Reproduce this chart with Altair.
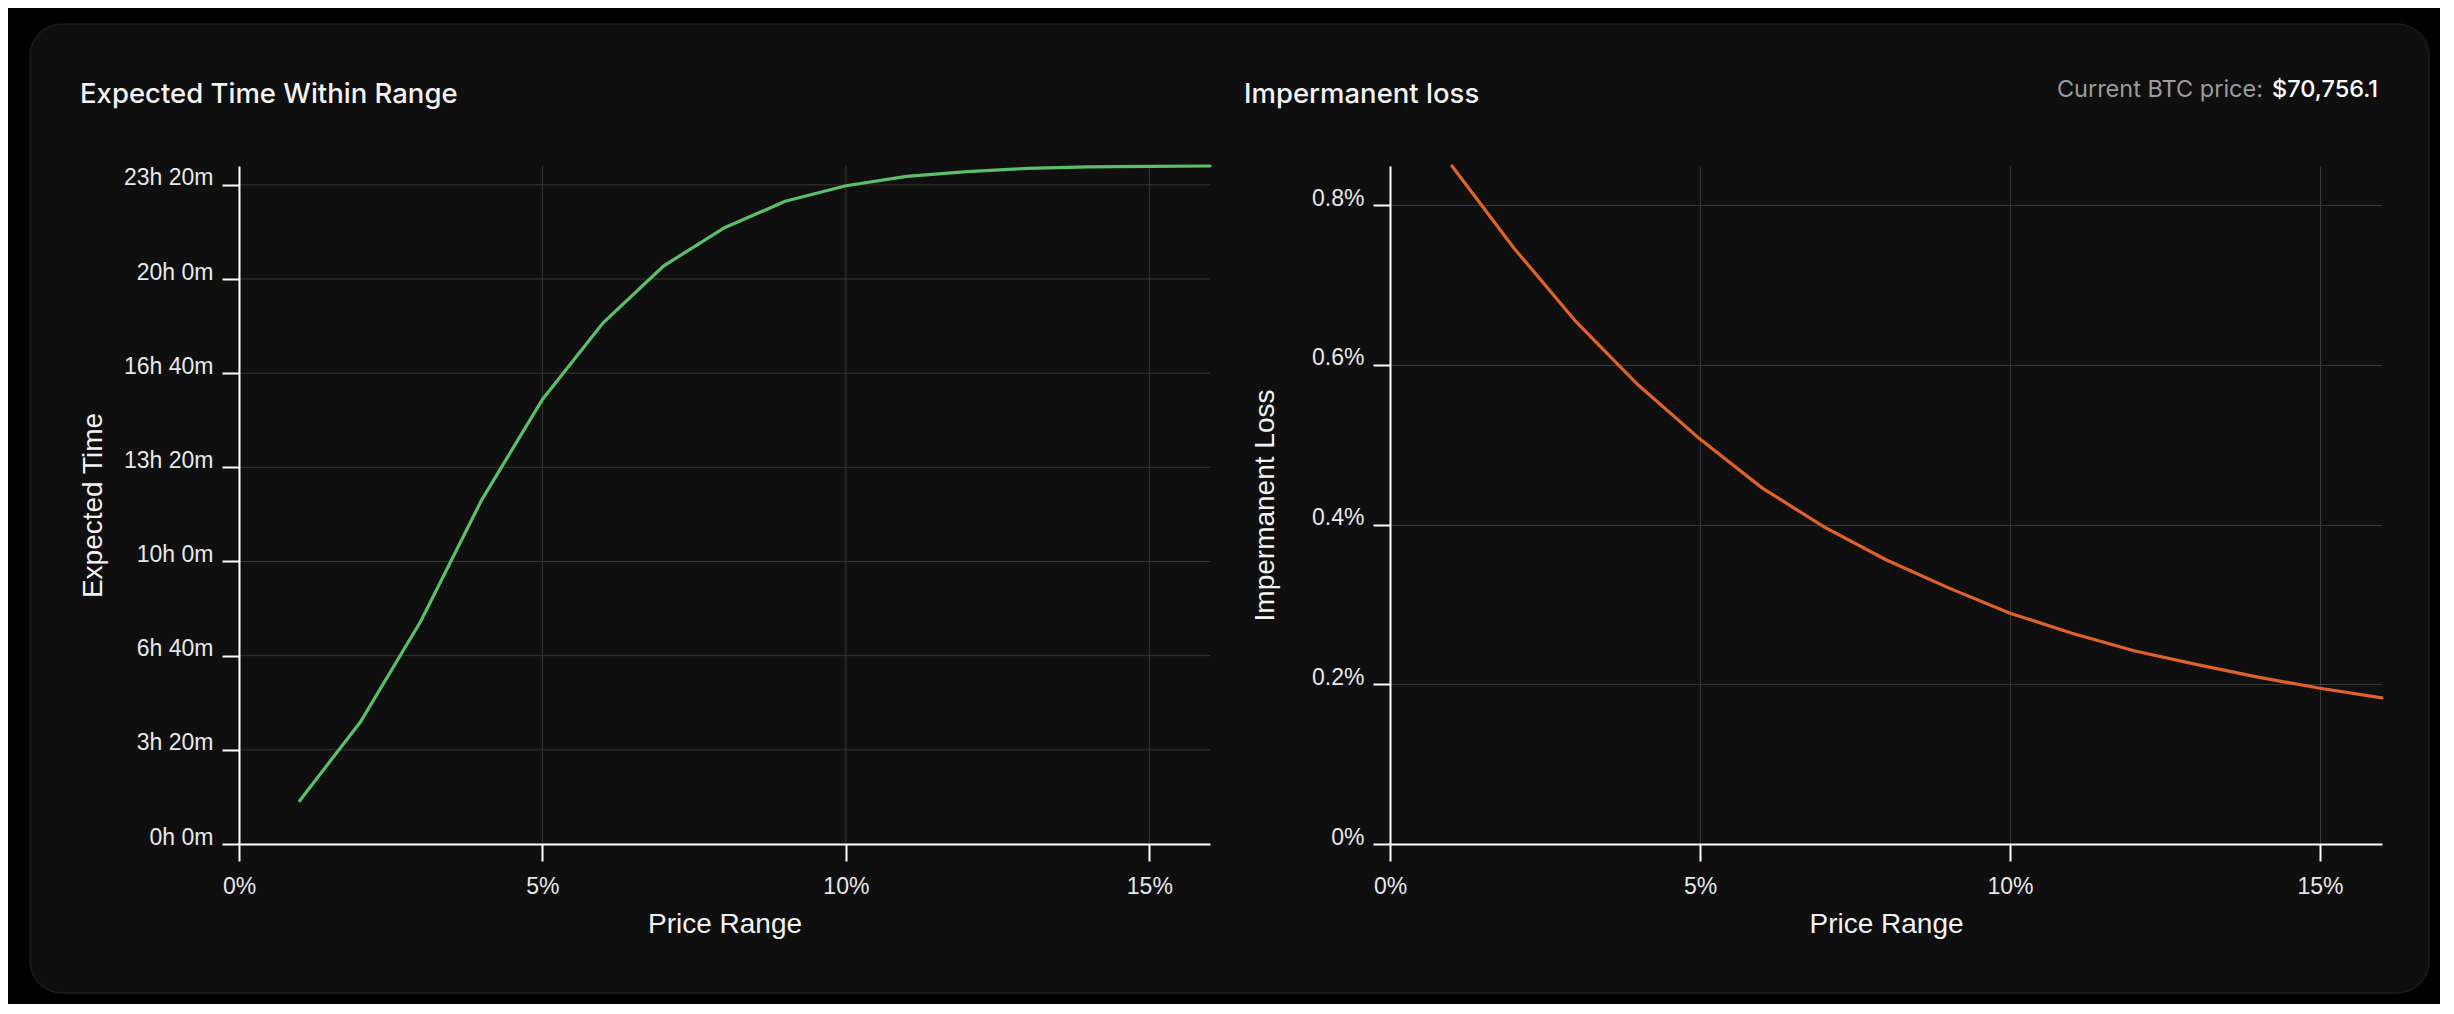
import altair as alt
import pandas as pd

# ---------------- data ----------------
price_range = list(range(1, 17))  # percent
expected_minutes = [92, 259, 474, 731, 944, 1107, 1228, 1309, 1365, 1398,
                    1418, 1428, 1435, 1438, 1439, 1440]
impermanent_loss = [0.849, 0.746, 0.654, 0.575, 0.507, 0.446, 0.397, 0.356,
                    0.321, 0.289, 0.264, 0.242, 0.225, 0.209, 0.195, 0.183]

x_ticks = [0, 5, 10, 15]
time_ticks = [0, 200, 400, 600, 800, 1000, 1200, 1400]
loss_ticks = [0, 0.2, 0.4, 0.6, 0.8]

left_title = ["Expected Time Within Range"]
right_title = ["Impermanent loss"]
x_title = "Price Range"
left_y_title = "Expected Time"
right_y_title = "Impermanent Loss"
price_label = ["Current BTC price:"]
price_value = ["$70,756.1"]

# ---------------- layout ----------------
L_W, R_W, H = 971, 992, 678
GREEN = "#5bbf69"
ORANGE = "#e0622a"
GRID = "#383838"
CARD = "#0f0f0f"
TITLE_FONT = "Inter"
AX_FONT = "Liberation Sans"

x_scale = alt.Scale(domain=[0, 16], nice=False, zero=True)
t_scale = alt.Scale(domain=[0, 1440], nice=False)
l_scale = alt.Scale(domain=[0, 0.849], nice=False)


def x_axis(width, grid, zindex):
    return alt.Axis(values=x_ticks, labelExpr="datum.value + '%'", title=x_title,
                    labelFlush=False, labelPadding=14, labelAngle=0,
                    titleX=width / 2, titleY=66, titleBaseline="top",
                    grid=grid, zindex=zindex)


left_x_axis = x_axis(L_W, False, 1)
left_y_axis = alt.Axis(values=time_ticks, grid=False, zindex=1,
                       labelExpr="floor(datum.value / 60) + 'h ' + (datum.value % 60) + 'm'",
                       labelBaseline="alphabetic", labelPadding=9,
                       title=left_y_title, titleX=-132, titleY=H / 2,
                       titleBaseline="bottom", titleAngle=270)

df_time = pd.DataFrame({"range": price_range, "minutes": expected_minutes})
df_loss = pd.DataFrame({"range": price_range, "loss": impermanent_loss})

# ---- left panel ----
card = alt.Chart(pd.DataFrame({"card": [1]})).mark_rect(
    cornerRadius=32, fill=CARD, stroke="#1c1c1c", strokeWidth=1.5
).encode(x=alt.value(-209), x2=alt.value(2190), y=alt.value(-142), y2=alt.value(827))

vgrid = alt.Chart(pd.DataFrame({"range": x_ticks})).mark_rule(color=GRID, strokeWidth=1).encode(
    x=alt.X("range:Q", scale=x_scale, axis=left_x_axis))
hgrid = alt.Chart(pd.DataFrame({"minutes": time_ticks})).mark_rule(color=GRID, strokeWidth=1).encode(
    y=alt.Y("minutes:Q", scale=t_scale, axis=left_y_axis))

time_line = alt.Chart(df_time).mark_line(color=GREEN, strokeWidth=3.2, strokeCap="round").encode(
    x=alt.X("range:Q", scale=x_scale, axis=left_x_axis),
    y=alt.Y("minutes:Q", scale=t_scale, axis=left_y_axis),
)

left_title_mark = alt.Chart(pd.DataFrame({"t": left_title})).mark_text(
    align="left", baseline="alphabetic", font=TITLE_FONT, fontSize=27.5, fontWeight=500,
    color="#f2f2f2"
).encode(text="t:N", x=alt.value(-159), y=alt.value(-63))

left = alt.layer(card, vgrid, hgrid, time_line, left_title_mark).properties(width=L_W, height=H)

# ---- right panel ----
loss_line = alt.Chart(df_loss).mark_line(color=ORANGE, strokeWidth=3.2, strokeCap="round").encode(
    x=alt.X("range:Q", scale=x_scale, axis=x_axis(R_W, True, 0)),
    y=alt.Y("loss:Q", scale=l_scale,
            axis=alt.Axis(values=loss_ticks, grid=True,
                          labelExpr="format(datum.value, '.1~f') + '%'",
                          labelBaseline="alphabetic", labelPadding=9,
                          title=right_y_title, titleX=-111, titleY=H / 2,
                          titleBaseline="bottom", titleAngle=270)),
)

right_title_mark = alt.Chart(pd.DataFrame({"t": right_title})).mark_text(
    align="left", baseline="alphabetic", font=TITLE_FONT, fontSize=27.5, fontWeight=500,
    color="#f2f2f2"
).encode(text="t:N", x=alt.value(-146), y=alt.value(-63))

price_label_mark = alt.Chart(pd.DataFrame({"t": price_label})).mark_text(
    align="right", baseline="alphabetic", font=TITLE_FONT, fontSize=23.5, color="#9c9c9c"
).encode(text="t:N", x=alt.value(873), y=alt.value(-69))

price_value_mark = alt.Chart(pd.DataFrame({"t": price_value})).mark_text(
    align="left", baseline="alphabetic", font=TITLE_FONT, fontSize=23.5, fontWeight=500,
    color="#ffffff"
).encode(text="t:N", x=alt.value(882), y=alt.value(-69))

right = alt.layer(loss_line, right_title_mark, price_label_mark, price_value_mark).properties(
    width=R_W, height=H)

chart = alt.hconcat(left, right, spacing=180, bounds="flush").properties(
    padding={"left": 21, "top": 15, "right": 10, "bottom": 10},
    background="#000000",
).configure_view(strokeWidth=0).configure_axis(
    domainColor="#ffffff", domainWidth=2,
    tickColor="#ffffff", tickWidth=2, tickSize=17,
    labelColor="#e8e8e8", labelFont=AX_FONT, labelFontSize=23,
    titleColor="#f2f2f2", titleFont=AX_FONT, titleFontSize=28, titleFontWeight="normal",
    gridColor=GRID, gridWidth=1,
)

chart.save("out.html", embed_options={"renderer": "svg", "actions": False})
